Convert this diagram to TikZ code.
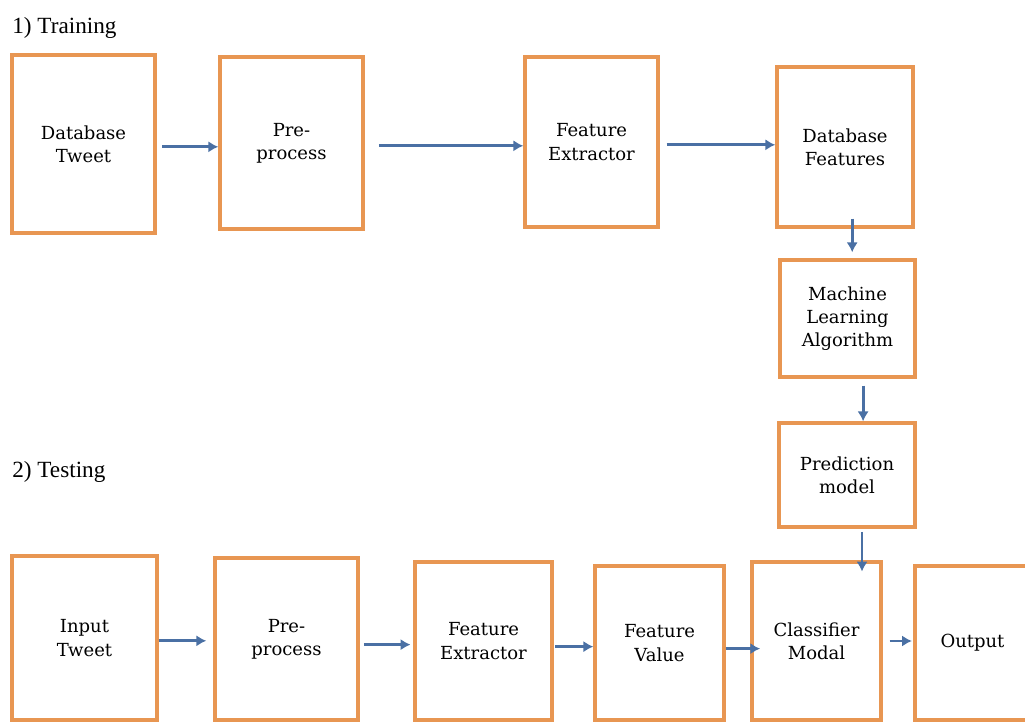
\documentclass[tikz,border=0pt]{standalone}
\usepackage{fontspec}
\setmainfont{Liberation Serif}
\newfontfamily\boxfont{DejaVu Serif}
\usepackage{xcolor}
\usetikzlibrary{arrows.meta, positioning}

\definecolor{boxorange}{RGB}{232,150,82}
\definecolor{arrowblue}{RGB}{74,112,164}

\begin{document}
\begin{tikzpicture}[
    x=0.025cm, y=-0.025cm,
    block/.style={rectangle, draw=boxorange, line width=2.4pt, align=center,
        font=\boxfont\fontsize{12.8}{16.5}\selectfont, inner sep=0pt},
    flow/.style={-{Latex[length=7pt,width=8pt]}, line width=2pt, draw=arrowblue},
    title/.style={anchor=west, font=\fontsize{16.5}{19}\selectfont, inner sep=0pt}
]

\useasboundingbox (0,0) rectangle (1025,722);
\clip (0,0) rectangle (1025,722);

% Training
\node[title] (ttrain) at (12,28) {1) Training};

\node[block, minimum width=3.575cm, minimum height=4.45cm] (dbt) at (83.5,144) {Database\\Tweet};
\node[block, minimum width=3.575cm, minimum height=4.3cm] (pre1) at (291.5,143) {Pre-\\process};
\node[block, minimum width=3.325cm, minimum height=4.25cm] (fe1) at (591.5,142) {Feature\\Extractor};
\node[block, minimum width=3.4cm, minimum height=4cm] (dbf) at (845,147) {Database\\Features};
\node[block, minimum width=3.375cm, minimum height=2.925cm] (mla) at (847.5,318.5) {Machine\\Learning\\Algorithm};
\node[block, minimum width=3.4cm, minimum height=2.6cm] (pm) at (847,475) {Prediction\\model};

\draw[flow] ([xshift=4pt,yshift=-2pt]dbt.east) -- ([yshift=-2pt]dbt.east -| pre1.west);
\draw[flow] ([xshift=10pt,yshift=-2pt]pre1.east) -- ([yshift=-2pt]pre1.east -| fe1.west);
\draw[flow] ([xshift=5pt,yshift=-2pt]fe1.east) -- ([yshift=-2pt]fe1.east -| dbf.west);
\draw[flow] ([xshift=0.18cm,yshift=0.25cm]dbf.south) -- ([xshift=0.18cm,yshift=0.15cm]dbf.south |- mla.north);
\draw[flow] ([xshift=0.39cm,yshift=-0.17cm]mla.south) -- ([xshift=0.39cm]mla.south |- pm.north);

% Testing
\node[title] (ttest) at (12,472) {2) Testing};

\node[block, minimum width=3.625cm, minimum height=4.1cm] (in) at (84.5,638) {Input\\Tweet};
\node[block, minimum width=3.575cm, minimum height=4.05cm] (pre2) at (286.5,639) {Pre-\\process};
\node[block, minimum width=3.425cm, minimum height=3.95cm] (fe2) at (483.5,641) {Feature\\Extractor};
\node[block, minimum width=3.225cm, minimum height=3.85cm] (fv) at (659.5,643) {Feature\\Value};
\node[block, minimum width=3.225cm, minimum height=3.95cm] (cm) at (816.5,641) {Classifier\\Modal};
\node[block, minimum width=2.875cm, minimum height=3.85cm] (out) at (972.5,643) {Output};

\draw[flow] ([yshift=-2pt]in.east) -- ([xshift=-5pt,yshift=-2pt]in.east -| pre2.west);
\draw[flow] ([xshift=3pt,yshift=-4pt]pre2.east) -- ([xshift=-2pt,yshift=-4pt]pre2.east -| fe2.west);
\draw[flow] ([xshift=1pt,yshift=-4pt]fe2.east) -- ([yshift=-4pt]fe2.east -| fv.west);
\draw[flow] ([yshift=-4pt]fv.east) -- ([xshift=7pt,yshift=-4pt]fv.east -| cm.west);
\draw[flow] ([xshift=5pt,yshift=0pt]cm.east) -- ([xshift=-1pt]cm.east -| out.west);
\draw[flow] ([xshift=0.375cm,yshift=-0.08cm]pm.south) -- ([xshift=0.375cm,yshift=-0.28cm]pm.south |- cm.north);

\end{tikzpicture}
\end{document}
